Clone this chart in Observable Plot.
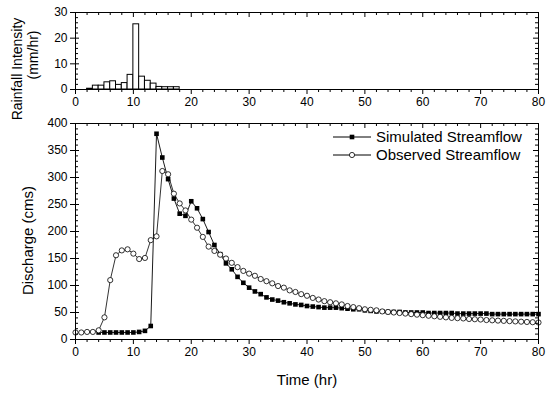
<!DOCTYPE html>
<html><head><meta charset="utf-8">
<script src="https://cdn.jsdelivr.net/npm/d3@7"></script>
<script src="https://cdn.jsdelivr.net/npm/@observablehq/plot@0.6"></script>
<style>
body{margin:0;background:#fff;font-family:"Liberation Sans",Arial,sans-serif;}
#wrap{position:relative;width:550px;height:394px;overflow:hidden;background:#fff;}
#bot{position:absolute;left:0;top:112px;z-index:1;}
#top{position:absolute;left:0;top:0;z-index:2;}
#legend{position:absolute;left:0;top:0;pointer-events:none;z-index:3;}
svg{overflow:visible;}
</style></head><body>
<div id="wrap"><div id="bot"></div><div id="top"></div><div id="legend"></div></div>
<script>
// ---- Data ----
const rainStart = [2,3,4,5,6,7,8,9,10,11,12,13,14,15,16,17];
const rainIntensity = [0.3,1.5,1.5,2.8,3.2,1.8,2.5,5.7,25.4,5.0,3.4,2.3,1.0,0.9,0.9,0.9];

const observedHours = d3.range(0, 81);
const observedFlow = [13,13,14,14,17,41,110,156,165,167,159,149,151,184,191,312,306,270,252,239,
  222,207,190,172,164,157,150,142,134,127,122,118,112,108,104,99,96,91,88,84,
  81,77,74,71,69,67,65,62,60,58,56,55,54,52,51,50,49,48,47,46,
  45,44,43,42,41,40,39.5,39,38,37.5,37,36,35.5,35,34.5,34,33.5,33,32.5,32,31.5];

const simulatedHours = d3.range(4, 81);
const simulatedFlow = [13,13,13,13,13,13,13,14,16,25,381,337,297,261,233,229,256,243,223,199,
  175,158,141,130,116,105,96,89,84,78,74,72,69,67,65,64,62,61,60,59,
  59,59,58,57,56,56,54,53,52,52,51,51,51,50,50,50,50,49,49,49,
  49,49,48,48,48,48,48,48,47,47,47,47,47,47,47,47,47];

const xMajorTicks = [0,10,20,30,40,50,60,70,80];
const rainMajorTicks = [0,10,20,30];
const flowMajorTicks = [0,50,100,150,200,250,300,350,400];
const seriesNames = ["Simulated Streamflow","Observed Streamflow"];

// ---- Helpers ----
const W = 550, ML = 75, MR = 12, PW = W - ML - MR;
const xMinorTicks = d3.range(0, 81, 2).filter(d => d % 10);
const FONT = "'Liberation Sans', Arial, sans-serif";

function frameTicks(yMajor, yMinor, plotH) {
  return [
    Plot.frame({stroke: "black", strokeWidth: 1}),
    Plot.axisX({ticks: xMajorTicks, tickSize: 5, tickPadding: 3, label: null, fontSize: 12, stroke: "black"}),
    Plot.axisX({ticks: xMinorTicks, tickSize: 3, tickFormat: () => "", label: null, stroke: "black"}),
    Plot.tickX(xMajorTicks, {x: d => d, stroke: "black", insetBottom: plotH - 5}),
    Plot.tickX(xMinorTicks, {x: d => d, stroke: "black", insetBottom: plotH - 3}),
    Plot.axisY({ticks: yMajor, tickSize: 5, tickPadding: 3, label: null, fontSize: 12, stroke: "black"}),
    Plot.tickY(yMajor, {y: d => d, stroke: "black", insetRight: PW - 4}),
    Plot.tickY(yMinor, {y: d => d, stroke: "black", insetRight: PW - 3}),
    Plot.tickY(yMajor, {y: d => d, stroke: "black", insetLeft: PW - 5}),
    Plot.tickY(yMinor, {y: d => d, stroke: "black", insetLeft: PW - 3})
  ];
}

// ---- Top panel: rainfall ----
const rain = rainStart.map((s, i) => ({x1: s, x2: s + 1, v: rainIntensity[i]}));
const topH = 112, topMT = 12, topMB = 23;
const rainMinor = d3.range(0, 31, 2).filter(d => d % 10);
const topPlot = Plot.plot({
  width: W, height: topH, marginLeft: ML, marginRight: MR, marginTop: topMT, marginBottom: topMB,
  style: {fontFamily: FONT, fontSize: "12px", color: "black", background: "transparent", overflow: "visible"},
  x: {domain: [0, 80]},
  y: {domain: [0, 30]},
  marks: [
    Plot.rectY(rain, {x1: "x1", x2: "x2", y: "v", fill: "white", stroke: "black", strokeWidth: 1}),
    ...frameTicks(rainMajorTicks, rainMinor, topH - topMT - topMB),
    Plot.text(["Rainfall Intensity"], {frameAnchor: "left", textAnchor: "middle", dx: -58, dy: 18, rotate: -90, fontSize: 14, fill: "black"}),
    Plot.text(["(mm/hr)"], {frameAnchor: "left", textAnchor: "middle", dx: -42, dy: 4, rotate: -90, fontSize: 14, fill: "black"})
  ]
});
document.getElementById("top").appendChild(topPlot);

// ---- Bottom panel: discharge ----
const obs = observedHours.map((h, i) => ({h, q: observedFlow[i]}));
const sim = simulatedHours.map((h, i) => ({h, q: simulatedFlow[i]}));
const botH = 282, botMT = 11, botMB = 55;
const flowMinor = d3.range(0, 401, 10).filter(d => d % 50);
const botPlot = Plot.plot({
  width: W, height: botH, marginLeft: ML, marginRight: MR, marginTop: botMT, marginBottom: botMB,
  style: {fontFamily: FONT, fontSize: "12px", color: "black", background: "transparent", overflow: "visible"},
  x: {domain: [0, 80]},
  y: {domain: [0, 400]},
  marks: [
    Plot.line(sim, {x: "h", y: "q", stroke: "black", strokeWidth: 0.9}),
    Plot.line(obs, {x: "h", y: "q", stroke: "black", strokeWidth: 0.8}),
    Plot.dot(sim, {x: "h", y: "q", symbol: "square", fill: "black", r: 2.6}),
    Plot.dot(obs, {x: "h", y: "q", symbol: "circle", fill: "white", stroke: "black", strokeWidth: 0.8, r: 2.6}),
    ...frameTicks(flowMajorTicks, flowMinor, botH - botMT - botMB),
    Plot.text(["Discharge (cms)"], {frameAnchor: "left", textAnchor: "middle", dx: -47, dy: 9, rotate: -90, fontSize: 15, fill: "black"}),
    Plot.text(["Time (hr)"], {frameAnchor: "bottom", dy: 45, fontSize: 15, fill: "black"})
  ]
});
document.getElementById("bot").appendChild(botPlot);

// ---- Legend ----
const ns = "http://www.w3.org/2000/svg";
const lg = document.createElementNS(ns, "svg");
lg.setAttribute("width", W); lg.setAttribute("height", 394);
const rows = [{y: 137, sym: "square"}, {y: 155, sym: "circle"}];
rows.forEach((r, i) => {
  const line = document.createElementNS(ns, "line");
  line.setAttribute("x1", 333); line.setAttribute("x2", 371);
  line.setAttribute("y1", r.y); line.setAttribute("y2", r.y);
  line.setAttribute("stroke", "black"); line.setAttribute("stroke-width", 1);
  lg.appendChild(line);
  let s;
  if (r.sym === "square") {
    s = document.createElementNS(ns, "rect");
    s.setAttribute("x", 349.7); s.setAttribute("y", r.y - 2.3);
    s.setAttribute("width", 4.6); s.setAttribute("height", 4.6);
    s.setAttribute("fill", "black");
  } else {
    s = document.createElementNS(ns, "circle");
    s.setAttribute("cx", 352); s.setAttribute("cy", r.y); s.setAttribute("r", 2.6);
    s.setAttribute("fill", "white"); s.setAttribute("stroke", "black"); s.setAttribute("stroke-width", 0.8);
  }
  lg.appendChild(s);
  const t = document.createElementNS(ns, "text");
  t.setAttribute("x", 376); t.setAttribute("y", r.y);
  t.setAttribute("dy", "0.35em");
  t.setAttribute("font-size", 15);
  t.setAttribute("font-family", "Liberation Sans, Arial, sans-serif");
  t.textContent = seriesNames[i];
  lg.appendChild(t);
});
document.getElementById("legend").appendChild(lg);
</script>
</body></html>
